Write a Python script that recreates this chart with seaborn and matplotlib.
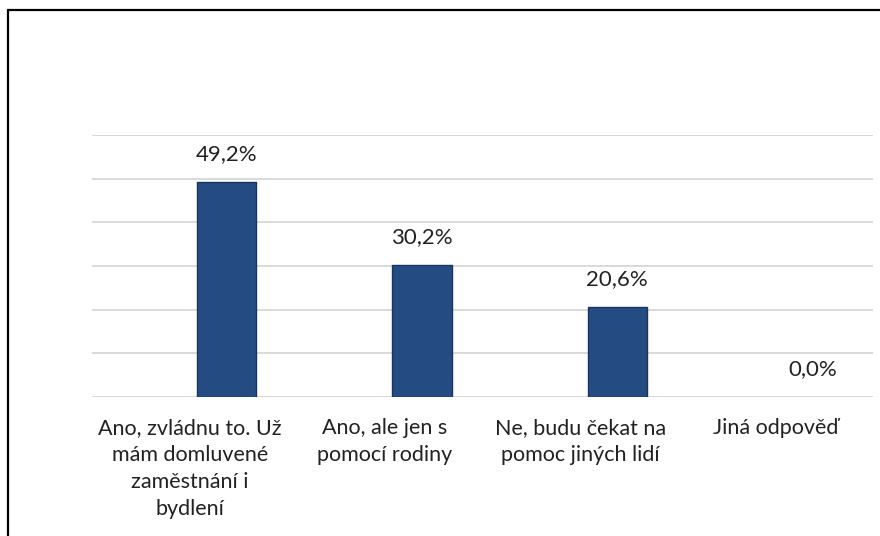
import matplotlib
matplotlib.use("Agg")
import matplotlib.pyplot as plt
from matplotlib.lines import Line2D
import seaborn as sns
import pandas as pd
import numpy as np

categories = [
    "Ano, zvládnu to. Už\nmám domluvené\nzaměstnání i\nbydlení",
    "Ano, ale jen s\npomocí rodiny",
    "Ne, budu čekat na\npomoc jiných lidí",
    "Jiná odpověď",
]
values = [49.2, 30.2, 20.6, 0.0]
empty_series = [np.nan, np.nan, np.nan, np.nan]  # hidden first series (Excel layout)
series_names = ["_", "Odpovědi"]
y_ticks = [0, 10, 20, 30, 40, 50, 60]

sns.set_theme(style="white")
plt.rcParams["font.family"] = ["Lato", "DejaVu Sans"]

df = pd.DataFrame({
    "cat": categories * 2,
    "val": empty_series + values,
    "serie": [series_names[0]] * 4 + [series_names[1]] * 4,
})

fig = plt.figure(figsize=(8.8, 5.36), dpi=100)
ax = fig.add_axes([92 / 880, 1 - 397 / 536, (873 - 92) / 880, (397 - 135) / 536])

sns.barplot(data=df, x="cat", y="val", hue="serie", hue_order=series_names,
            order=categories, ax=ax, palette=["#244c82", "#244c82"],
            width=0.76, gap=0.2, dodge=True, edgecolor="#17355f",
            linewidth=1.0, saturation=1, legend=False)

for p in ax.patches:
    if p.get_height() == 0 or np.isnan(p.get_height()):
        p.set_linewidth(0)

ax.set_ylim(0, 60)
ax.set_xlim(-0.5, 3.5)
ax.set_yticks(y_ticks)
ax.set_yticklabels([])
ax.yaxis.grid(True, color="#d9d9d9", linewidth=1.4)
ax.set_axisbelow(True)
for s in ax.spines.values():
    s.set_visible(False)
ax.set_xlabel("")
ax.set_ylabel("")
ax.tick_params(axis="x", length=0, pad=15, labelsize=15.5, colors="#222222")
ax.tick_params(axis="y", length=0)
for lbl in ax.get_xticklabels():
    lbl.set_linespacing(1.45)
    lbl.set_horizontalalignment("center")

container = ax.containers[-1]
ax.bar_label(container, labels=[f"{v:.1f}%".replace(".", ",") for v in values],
             padding=13, fontsize=16, color="#222222")

# outer frame (top and left edges visible)
fig.add_artist(Line2D([8 / 880, 1], [1 - 10 / 536, 1 - 10 / 536], color="black",
                      linewidth=1.6, transform=fig.transFigure))
fig.add_artist(Line2D([8 / 880, 8 / 880], [0, 1 - 10 / 536], color="black",
                      linewidth=1.6, transform=fig.transFigure))

fig.savefig("out.png", dpi=100)
